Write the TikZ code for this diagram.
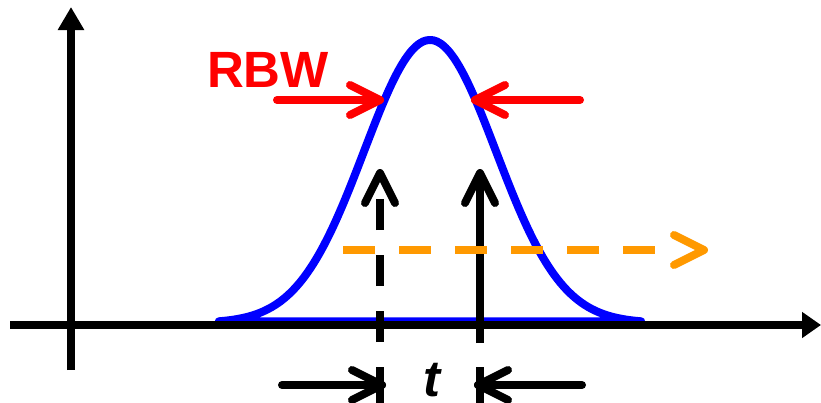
\documentclass[tikz,border=0pt]{standalone}
\usepackage{fontspec}
\setmainfont{Liberation Sans}
\usetikzlibrary{arrows.meta}
\definecolor{myred}{HTML}{FF0000}
\definecolor{myblue}{HTML}{0000FF}
\definecolor{myorange}{HTML}{FF9900}
\begin{document}
\begin{tikzpicture}[x=1pt,y=-1pt,
  axisline/.style={line width=8pt,black},
  gausscurve/.style={line width=8pt,myblue,line join=round},
  redarrow/.style={line width=8pt,myred,line cap=round,line join=round},
  blkarrow/.style={line width=8pt,black,line cap=round,line join=round},
  blkline/.style={line width=8pt,black},
  dashblk/.style={line width=8pt,black,dash pattern=on 31pt off 25pt},
  orangeline/.style={line width=8pt,myorange,dash pattern=on 32pt off 24pt},
  orangetip/.style={line width=8pt,myorange,line cap=round,line join=round},
  bigtext/.style={inner sep=0pt,font=\fontsize{51}{51}\selectfont\bfseries}
]
\useasboundingbox (0,0) rectangle (821,402);
% Gaussian
\draw[gausscurve] plot[domain=-3.2:3.2,samples=121,smooth] ({430+66*\x},{323-283*exp(-pow(\x,2)/2)}) -- cycle;
% axes
\coordinate (xa0) at (10,325);
\coordinate (xa1) at (821,325);
\coordinate (ya0) at (71,370);
\coordinate (ya1) at (71,7);
\draw[axisline,-{Triangle[length=19pt,width=25pt]}] (xa0) -- (xa1);
\draw[axisline,-{Triangle[length=23pt,width=25pt]}] (ya0) -- (ya1);
% RBW
\node[bigtext,text=myred,anchor=base] (rbw) at (268,87) {RBW};
\coordinate (rl0) at (277,100);
\coordinate (rl1) at (380,100);
\coordinate (rr0) at (580,100);
\coordinate (rr1) at (475,100);
\draw[redarrow] (rl0) -- (rl1);
\draw[redarrow] ([shift={(-30,-15)}]rl1) -- (rl1) -- ([shift={(-30,15)}]rl1);
\draw[redarrow] (rr0) -- (rr1);
\draw[redarrow] ([shift={(30,-15)}]rr1) -- (rr1) -- ([shift={(30,15)}]rr1);
% vertical arrows
\coordinate (d0) at (380,342);
\coordinate (d1) at (380,173);
\coordinate (s0) at (480,343);
\coordinate (s1) at (480,173);
\draw[dashblk] (d0) -- (d1);
\draw[blkarrow] ([shift={(-15,30)}]d1) -- (d1) -- ([shift={(15,30)}]d1);
\draw[blkline] (s0) -- ([shift={(0,4)}]s1);
\draw[blkarrow] ([shift={(-15,30)}]s1) -- (s1) -- ([shift={(15,30)}]s1);
% ticks at bottom
\coordinate (tk1a) at (380,367);
\coordinate (tk1b) at (380,405);
\coordinate (tk2a) at (480,367);
\coordinate (tk2b) at (480,405);
\draw[blkline] (tk1a) -- (tk1b);
\draw[blkline] (tk2a) -- (tk2b);
% bottom arrows
\coordinate (bl0) at (282,385);
\coordinate (bl1) at (382,385);
\coordinate (br0) at (582,385);
\coordinate (br1) at (478,385);
\draw[blkarrow] (bl0) -- (bl1);
\draw[blkarrow] ([shift={(-30,-15)}]bl1) -- (bl1) -- ([shift={(-30,15)}]bl1);
\draw[blkarrow] (br0) -- (br1);
\draw[blkarrow] ([shift={(30,-15)}]br1) -- (br1) -- ([shift={(30,15)}]br1);
\node[bigtext,anchor=base] (tlabel) at (432,396) {\itshape t};
% orange dashed arrow
\coordinate (o0) at (343,250);
\coordinate (o1) at (672,250);
\coordinate (otip) at (704,250);
\draw[orangeline] (o0) -- (o1);
\draw[orangetip] ([shift={(-30,-15)}]otip) -- (otip) -- ([shift={(-30,15)}]otip);
\end{tikzpicture}
\end{document}
